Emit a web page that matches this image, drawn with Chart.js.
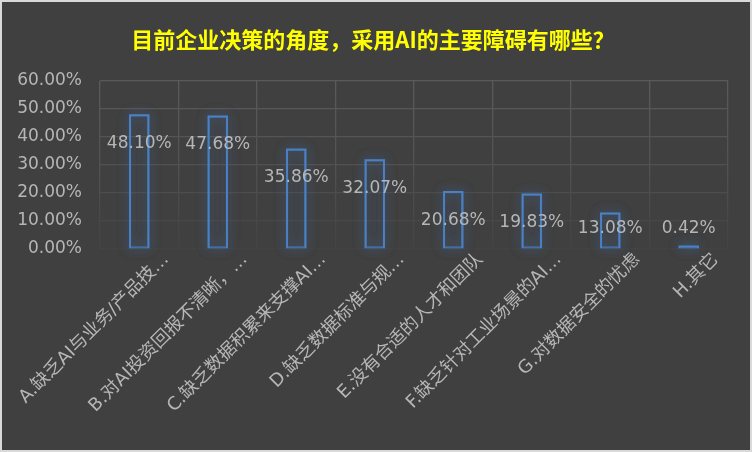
<!DOCTYPE html>
<html>
<head>
<meta charset="utf-8">
<script src="https://cdn.jsdelivr.net/npm/chart.js@4/dist/chart.umd.min.js"></script>
<style>
  body { margin: 0; background: #d9d9d9; }
  canvas { display: block; }
</style>
</head>
<body>
<canvas id="chart" width="752" height="452"></canvas>
<script>
const chartTitle = '目前企业决策的角度，采用AI的主要障碍有哪些？';
const categories = [
  'A.缺乏AI与业务/产品技…',
  'B.对AI投资回报不清晰，…',
  'C.缺乏数据积累来支撑AI…',
  'D.缺乏数据标准与规…',
  'E.没有合适的人才和团队',
  'F.缺乏针对工业场景的AI…',
  'G.对数据安全的忧虑',
  'H.其它'
];
const shares = [48.10, 47.68, 35.86, 32.07, 20.68, 19.83, 13.08, 0.42];
const yMax = 60;
const yStep = 10;

const barBlue = '#4a80c4';
const textGrey = '#b6b6b6';
const latinCjk = '"DejaVu Sans", "Noto Sans CJK SC", sans-serif';

// dark panel inside the light frame + title
const panel = {
  id: 'panel',
  beforeDraw(chart) {
    const ctx = chart.ctx;
    ctx.save();
    ctx.fillStyle = '#404040';
    ctx.fillRect(2, 2, chart.width - 4, chart.height - 4);
    ctx.fillStyle = '#ffff00';
    ctx.font = 'bold 22px "Noto Sans CJK SC", sans-serif';
    ctx.textAlign = 'center';
    ctx.textBaseline = 'middle';
    ctx.fillText(chartTitle, 373, 40);
    ctx.restore();
  }
};

// soft glow round the bar outlines (drawn under the bars)
const glow = {
  id: 'glow',
  beforeDatasetsDraw(chart) {
    const ctx = chart.ctx;
    ctx.save();
    ctx.strokeStyle = 'rgba(74,128,196,0.45)';
    ctx.shadowColor = 'rgba(74,128,196,0.9)';
    ctx.shadowBlur = 12;
    ctx.lineWidth = 2;
    chart.getDatasetMeta(0).data.forEach((bar) => {
      const h = Math.max(bar.base - bar.y, 3);
      ctx.strokeRect(bar.x - bar.width / 2 + 1, bar.base - h + 1, bar.width - 2, h - 2);
      ctx.strokeRect(bar.x - bar.width / 2 + 1, bar.base - h + 1, bar.width - 2, h - 2);
    });
    ctx.restore();
  }
};

// value labels, a little under the top of each bar
const valueLabels = {
  id: 'valueLabels',
  afterDatasetsDraw(chart) {
    const ctx = chart.ctx;
    const yScale = chart.scales.y;
    const floor = yScale.getPixelForValue(7.4);
    ctx.save();
    ctx.fillStyle = textGrey;
    ctx.font = '17px ' + latinCjk;
    ctx.textAlign = 'center';
    ctx.textBaseline = 'middle';
    chart.getDatasetMeta(0).data.forEach((bar, i) => {
      const y = Math.min(bar.y + 29, floor);
      ctx.fillText(shares[i].toFixed(2) + '%', bar.x, y);
    });
    ctx.restore();
  }
};

function gridColor(c) {
  const area = c.chart.chartArea;
  if (!area) return '#555555';
  const g = c.chart.ctx.createLinearGradient(0, area.top, 0, area.bottom);
  g.addColorStop(0, '#5a5a5a');
  g.addColorStop(0.45, '#535353');
  g.addColorStop(1, '#434343');
  return g;
}

new Chart(document.getElementById('chart'), {
  type: 'bar',
  data: {
    labels: categories,
    datasets: [{
      data: shares,
      backgroundColor: 'rgba(0,0,0,0)',
      borderColor: barBlue,
      borderWidth: 2,
      minBarLength: 3,
      barPercentage: 0.26,
      categoryPercentage: 1
    }]
  },
  options: {
    responsive: false,
    animation: false,
    devicePixelRatio: 1,
    layout: { padding: { top: 81, right: 24, bottom: 2, left: 2 } },
    plugins: {
      legend: { display: false },
      tooltip: { enabled: false }
    },
    scales: {
      x: {
        grid: { color: gridColor, lineWidth: 1.3, drawTicks: false },
        border: { display: false },
        afterFit(scale) {
          scale.height = 201;
          scale.paddingLeft = 0;
          scale.paddingRight = 0;
        },
        ticks: {
          color: textGrey,
          font: { family: latinCjk, size: 18 },
          minRotation: 45,
          maxRotation: 45,
          autoSkip: false,
          labelOffset: 27,
          padding: 0
        }
      },
      y: {
        min: 0,
        max: yMax,
        grid: { color: gridColor, lineWidth: 1.3, drawTicks: false },
        border: { display: false },
        afterFit(scale) { scale.width = 98; },
        ticks: {
          stepSize: yStep,
          color: textGrey,
          font: { family: latinCjk, size: 17 },
          padding: 18,
          callback: (v) => v.toFixed(2) + '%'
        }
      }
    }
  },
  plugins: [panel, glow, valueLabels]
});
</script>
</body>
</html>
